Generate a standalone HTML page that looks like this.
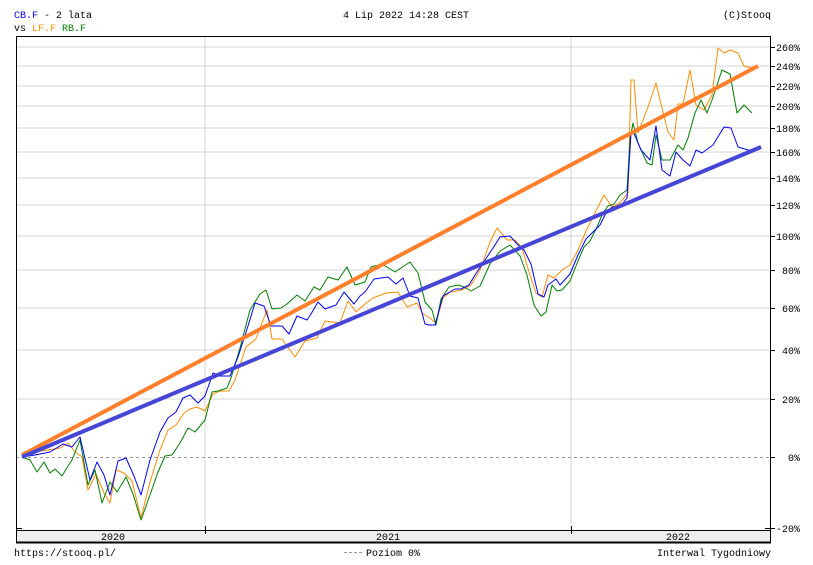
<!DOCTYPE html>
<html><head><meta charset="utf-8"><style>
html,body{margin:0;padding:0;background:#fff;}
svg{display:block;font-family:"Liberation Mono","DejaVu Sans Mono",monospace;font-size:10px;}
</style></head><body>
<svg width="813" height="565" viewBox="0 0 813 565" xmlns="http://www.w3.org/2000/svg">
<rect width="813" height="565" fill="#fff"/>
<text x="14" y="18" fill="#0000ff">CB.F<tspan fill="#000"> - 2 lata</tspan></text>
<text x="14" y="31" fill="#000">vs <tspan fill="#ff8c00">LF.F</tspan> <tspan fill="#008000">RB.F</tspan></text>
<text x="406" y="18" text-anchor="middle" fill="#000">4 Lip 2022 14:28 CEST</text>
<text x="771" y="18" text-anchor="end" fill="#000">(C)Stooq</text>
<g stroke="#d4d4d4" stroke-width="1">
<line x1="16" y1="47" x2="771" y2="47"/><line x1="16" y1="66" x2="771" y2="66"/><line x1="16" y1="86" x2="771" y2="86"/><line x1="16" y1="106" x2="771" y2="106"/><line x1="16" y1="128" x2="771" y2="128"/><line x1="16" y1="152" x2="771" y2="152"/><line x1="16" y1="178" x2="771" y2="178"/><line x1="16" y1="205" x2="771" y2="205"/><line x1="16" y1="236" x2="771" y2="236"/><line x1="16" y1="270" x2="771" y2="270"/><line x1="16" y1="308" x2="771" y2="308"/><line x1="16" y1="350" x2="771" y2="350"/><line x1="16" y1="399" x2="771" y2="399"/>
<line x1="205" y1="36" x2="205" y2="530"/><line x1="571" y1="36" x2="571" y2="530"/>
</g>
<line x1="16" y1="457.5" x2="771" y2="457.5" stroke="#999" stroke-dasharray="3,3"/>
<rect x="16.5" y="36.5" width="754" height="506" fill="none" stroke="#000"/>
<rect x="17" y="530" width="753" height="12" fill="#eeeeee"/>
<line x1="16" y1="530.5" x2="771" y2="530.5" stroke="#000"/>
<line x1="16" y1="542.5" x2="771" y2="542.5" stroke="#000" stroke-width="2"/>
<g stroke="#000"><line x1="205.5" y1="526" x2="205.5" y2="534"/><line x1="571.5" y1="526" x2="571.5" y2="534"/>
<line x1="16" y1="36.5" x2="22" y2="36.5"/><line x1="16" y1="528.5" x2="22" y2="528.5"/><line x1="765" y1="528.5" x2="771" y2="528.5"/>
<g stroke-width="1">
<line x1="771" y1="47.5" x2="775" y2="47.5"/><line x1="771" y1="66.5" x2="775" y2="66.5"/><line x1="771" y1="86.5" x2="775" y2="86.5"/><line x1="771" y1="106.5" x2="775" y2="106.5"/><line x1="771" y1="128.5" x2="775" y2="128.5"/><line x1="771" y1="152.5" x2="775" y2="152.5"/><line x1="771" y1="178.5" x2="775" y2="178.5"/><line x1="771" y1="205.5" x2="775" y2="205.5"/><line x1="771" y1="236.5" x2="775" y2="236.5"/><line x1="771" y1="270.5" x2="775" y2="270.5"/><line x1="771" y1="308.5" x2="775" y2="308.5"/><line x1="771" y1="350.5" x2="775" y2="350.5"/><line x1="771" y1="399.5" x2="775" y2="399.5"/><line x1="771" y1="457.5" x2="775" y2="457.5"/><line x1="771" y1="528.5" x2="775" y2="528.5"/></g></g>
<g fill="#000" text-anchor="end">
<text x="800" y="51">260%</text><text x="800" y="70">240%</text><text x="800" y="90">220%</text><text x="800" y="110">200%</text><text x="800" y="132">180%</text><text x="800" y="156">160%</text><text x="800" y="182">140%</text><text x="800" y="209">120%</text><text x="800" y="240">100%</text><text x="800" y="274">80%</text><text x="800" y="312">60%</text><text x="800" y="354">40%</text><text x="800" y="403">20%</text><text x="800" y="461">0%</text><text x="800" y="532">-20%</text>
</g>
<g fill="#000">
<text x="113" y="540" text-anchor="middle">2020</text><text x="388" y="540" text-anchor="middle">2021</text><text x="678" y="540" text-anchor="middle">2022</text>
<text x="14" y="556">https://stooq.pl/</text>
<text x="420" y="556" text-anchor="end">Poziom 0%</text>
<text x="771" y="556" text-anchor="end">Interwal Tygodniowy</text>
</g>
<line x1="344" y1="552.5" x2="364" y2="552.5" stroke="#999" stroke-dasharray="3,2"/>
<g fill="none" stroke-width="1" stroke-linejoin="round">
<polyline stroke="#ff8c00" points="22,457 35,452 48,450 60,448 68,443 75,452 82,457 88,490 96,474 104,493 110,503 116,470 124,473 132,481 141,518 150,482 160,450 168,430 176,425 184,413 190,409 197,407 205,411 213,394 220,391 229,391 235,380 246,347 256,339 262,323 267,310 272,339 282,339 290,350 295,357 305,341 317,338 325,321 340,323 348,301 356,312 365,304 373,298 386,293 398,292 407,307 417,303 423,314 430,318 436,323 443,298 450,292 462,290 471,285 480,270 490,242 497,228 507,240 515,240 522,248 529,272 536,293 542,297 548,275 554,278 562,270 570,265 578,250 586,231 595,213 604,195 612,207 620,203 628,193 631,80 634,80 638,133 648,107 656,83 662,108 668,132 674,140 678,104 683,104 690,70 696,105 704,110 712,95 718,48 724,53 730,50 738,53 744,66 752,68"/>
<polyline stroke="#008000" points="22,457 30,460 37,472 44,462 50,473 55,469 62,476 68,466 72,460 80,440 88,485 95,470 102,503 110,482 117,492 126,477 133,494 141,520 150,495 158,472 165,456 172,455 180,443 188,428 195,432 205,420 212,392 218,391 227,388 231,378 240,348 250,310 260,294 266,290 272,309 281,308 287,304 297,295 305,301 314,287 320,290 328,277 338,280 347,267 355,285 365,282 371,267 382,264 395,272 410,262 418,273 425,302 432,310 436,325 441,299 449,287 458,285 464,287 471,291 480,286 490,264 500,251 510,245 520,256 527,275 534,305 541,316 546,312 552,285 557,291 562,290 570,281 578,261 584,247 590,241 597,227 603,213 608,206 614,204 620,195 627,190 630,140 633,123 638,143 647,163 652,165 656,135 662,160 670,160 678,145 683,150 688,138 695,113 701,100 707,113 712,100 722,70 730,74 737,113 744,105 752,113"/>
<polyline stroke="#0000ff" points="22,457 35,455 50,452 63,444 72,447 80,437 90,480 97,462 104,475 110,495 118,461 126,458 134,476 141,495 150,460 160,432 168,418 176,412 183,398 190,395 198,403 205,396 213,373 220,376 230,376 238,357 248,326 255,303 264,306 271,326 282,326 289,334 297,316 307,320 311,314 318,302 325,309 336,305 344,292 354,304 360,296 365,292 374,279 388,277 396,284 403,278 410,296 418,298 425,324 429,325 435,325 443,296 455,289 461,289 469,285 475,275 485,260 495,245 500,237 510,236 518,245 524,250 531,264 538,294 544,297 548,285 556,279 560,285 570,274 578,255 586,239 594,231 600,225 606,213 612,207 620,207 627,198 631,133 633,131 641,150 650,160 656,126 662,170 670,176 676,152 683,160 690,166 696,150 702,153 713,145 724,127 731,128 738,147 748,150 752,150"/>
</g>
<line x1="22" y1="455" x2="758" y2="66" stroke="#ff7f2a" stroke-width="4"/>
<line x1="22" y1="457" x2="761" y2="147" stroke="#4646d6" stroke-width="4"/>
</svg>
</body></html>
